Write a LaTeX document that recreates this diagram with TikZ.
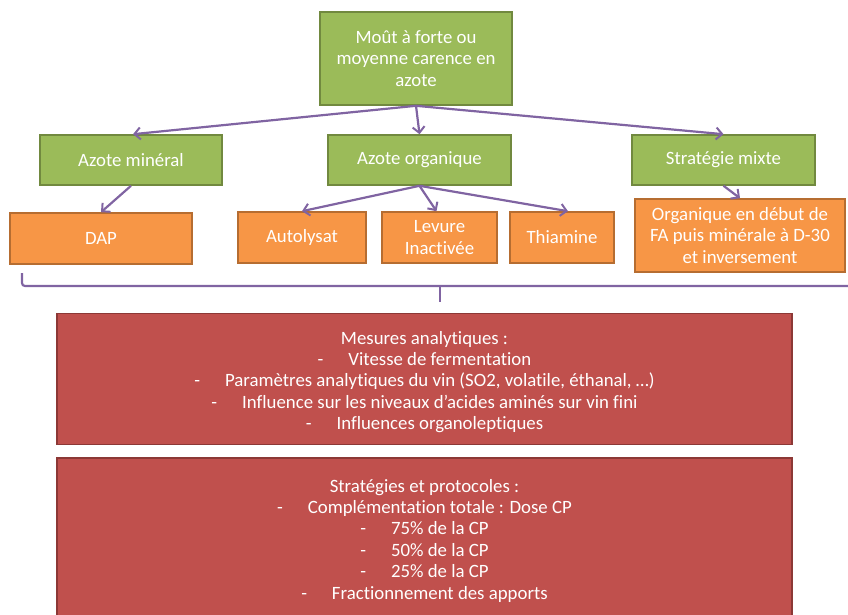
\documentclass[tikz,border=0pt]{standalone}
\usepackage{fontspec}
\setmainfont[Ligatures=NoCommon]{Carlito}
\usetikzlibrary{arrows.meta}
\definecolor{gfill}{HTML}{9BBB59}
\definecolor{gline}{HTML}{71893F}
\definecolor{ofill}{HTML}{F79646}
\definecolor{oline}{HTML}{B66D31}
\definecolor{rfill}{HTML}{C0504D}
\definecolor{rline}{HTML}{8C3836}
\definecolor{purp}{HTML}{8064A2}
\tikzset{
  txt/.style={text=white, align=center, inner sep=0pt,
    font=\fontsize{18.8pt}{21.4pt}\selectfont},
  box/.style={txt, draw, line width=1.6pt},
  gbox/.style={box, fill=gfill, draw=gline},
  obox/.style={box, fill=ofill, draw=oline},
  rbox/.style={box, fill=rfill, draw=rline},
  conn/.style={draw=purp, line width=2.2pt, -{Straight Barb[length=6pt,width=12pt,line width=2pt]}},
  bracel/.style={draw=purp, line width=2.2pt, rounded corners=3pt}
}
\newcommand{\itm}[1]{-\hspace{25pt}#1}
\begin{document}
\begin{tikzpicture}[x=1pt,y=-1pt]
\useasboundingbox (0,0) rectangle (848,614);
\clip (0,0) rectangle (848,614);
\node[gbox, minimum width=192pt, minimum height=93pt] (top) at (416,58.5) {Moût à forte ou\\moyenne carence en\\azote};
\node[gbox, minimum width=182pt, minimum height=50pt] (min) at (131,160) {Azote minéral};
\node[gbox, minimum width=183pt, minimum height=50pt] (org) at (419.5,160) {Azote organique};
\node[gbox, minimum width=183pt, minimum height=50pt] (mix) at (723.5,160) {Stratégie mixte};
\node[obox, minimum width=182pt, minimum height=51pt] (dap) at (101,238.5) {DAP};
\node[obox, minimum width=128pt, minimum height=51pt] (aut) at (302,237.5) {Autolysat};
\node[obox, minimum width=115pt, minimum height=51pt] (lev) at (439.5,237.5) {Levure\\Inactivée};
\node[obox, minimum width=104pt, minimum height=51pt] (thi) at (562,237.5) {Thiamine};
\node[obox, minimum width=210pt, minimum height=73pt] (orgmix) at (740,235.5) {Organique en début de\\FA puis minérale à D-30\\et inversement};
\node[rbox, minimum width=735pt, minimum height=131pt] (mes) at (424.5,379) {};
\node[txt] (mestxt) at (424.5,382) {Mesures analytiques :\\
\itm{Vitesse de fermentation}\\
\itm{Paramètres analytiques du vin (SO2, volatile, éthanal, …)}\\
\itm{Influence sur les niveaux d’acides aminés sur vin fini}\\
\itm{Influences organoleptiques}};
\node[rbox, minimum width=735pt, minimum height=161pt] (strat) at (424.5,538.5) {};
\node[txt] (strattxt) at (424.5,540.5) {Stratégies et protocoles :\\
\itm{Complémentation totale : Dose CP}\\
\itm{75\% de la CP}\\
\itm{50\% de la CP}\\
\itm{25\% de la CP}\\
\itm{Fractionnement des apports}};
\draw[conn] (top.south) -- ([xshift=2pt]min.north);
\draw[conn] (top.south) -- (org.north);
\draw[conn] (top.south) -- (mix.north);
\draw[conn] (min.south) -- (dap.north);
\draw[conn] (org.south) -- (aut.north);
\draw[conn] (org.south) -- ([xshift=-3pt]lev.north);
\draw[conn] (org.south) -- ([xshift=6pt]thi.north);
\draw[conn] (mix.south) -- (orgmix.north);
\coordinate (bl) at (22,273);
\coordinate (br) at (860,286);
\coordinate (bm) at (440,286);
\coordinate (bt) at (440,302);
\draw[bracel] (bl) |- (br);
\draw[bracel] (bm) -- (bt);
\end{tikzpicture}
\end{document}
